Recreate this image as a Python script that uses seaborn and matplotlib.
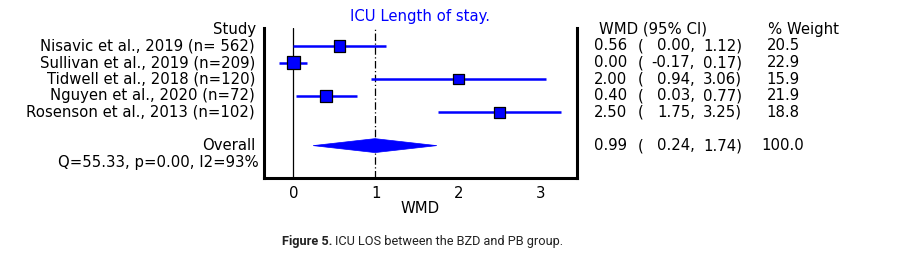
import numpy as np
import pandas as pd
import matplotlib
matplotlib.use("Agg")
import matplotlib.pyplot as plt
import matplotlib.transforms as mtransforms
from matplotlib.patches import Polygon
import seaborn as sns

studies = ["Nisavic et al., 2019 (n= 562)", "Sullivan et al., 2019 (n=209)",
           "Tidwell et al., 2018 (n=120)", "Nguyen et al., 2020 (n=72)",
           "Rosenson et al., 2013 (n=102)"]
wmd = [0.56, 0.00, 2.00, 0.40, 2.50]
ci_low = [0.00, -0.17, 0.94, 0.03, 1.75]
ci_high = [1.12, 0.17, 3.06, 0.77, 3.25]
weight = [20.5, 22.9, 15.9, 21.9, 18.8]
overall = 0.99
overall_low = 0.24
overall_high = 1.74
overall_weight = 100.0
het_text = "Q=55.33, p=0.00, I2=93%"
x_ticks = [0, 1, 2, 3]

sns.set_style("white")
plt.rcParams['font.family'] = ['DejaVu Sans']
plt.rcParams['text.color'] = 'black'
plt.rcParams['axes.labelcolor'] = 'black'

W, H = 898, 254
fig = plt.figure(figsize=(W / 100, H / 100), dpi=100)
ax = fig.add_axes([264 / W, 1 - 178 / H, (577 - 264) / W, (178 - 28) / H])

rows = np.arange(len(studies))
overall_row = len(studies) + 1
df = pd.DataFrame({"study": studies, "wmd": wmd, "low": ci_low,
                   "high": ci_high, "weight": weight, "row": rows})

blue = "#0000ff"
ax.hlines(df["row"], df["low"], df["high"], color=blue, lw=1.8, zorder=2)
sns.scatterplot(data=df, x="wmd", y="row", size="weight", sizes=(58, 80),
                marker="s", color=blue, edgecolor="black", linewidth=0.9,
                legend=False, ax=ax, zorder=3)

dh = 0.42
ax.add_patch(Polygon([[overall_low, overall_row], [overall, overall_row - dh],
                      [overall_high, overall_row], [overall, overall_row + dh]],
                     closed=True, facecolor=blue, edgecolor=blue, lw=0.5, zorder=3))

ax.axvline(0, color="black", lw=0.9, zorder=1)
ax.axvline(overall, color="black", lw=0.9, ls=(0, (6, 2, 1, 2)), zorder=1)

fs = 10.7
ax.set_xlim(-0.356, 3.44)
ax.set_ylim(7.95, -1.084)
ax.set_yticks([])
ax.set_xticks(x_ticks)
ax.set_xticklabels([str(t) for t in x_ticks])
ax.tick_params(axis="x", direction="in", length=5, width=0.8, color="black",
               labelsize=fs, labelcolor="black", pad=6)
for s in ["left", "right", "bottom"]:
    ax.spines[s].set_visible(True)
    ax.spines[s].set_color("black")
    ax.spines[s].set_linewidth(2.2)
ax.spines["top"].set_visible(False)
ax.set_xlabel("WMD", fontsize=fs, labelpad=0, color="black")
ax.set_ylabel("")
ax.set_title("ICU Length of stay.", color=blue, fontsize=fs, pad=5)

tr = mtransforms.blended_transform_factory(fig.transFigure, ax.transData)

def fx(px):
    return px / W

def put(px, r, s, ha):
    ax.text(fx(px), r, s, ha=ha, va="center", fontsize=fs, color="black",
            transform=tr, clip_on=False)

put(256, -1, "Study", "right")
put(599, -1, "WMD (95% CI)", "left")
put(768, -1, "% Weight", "left")

def row_text(r, est, lo, hi, wt):
    put(627, r, f"{est:.2f}", "right")
    put(638, r, "(", "left")
    put(695, r, f"{lo:.2f},", "right")
    put(742, r, f"{hi:.2f})", "right")
    put(783, r, f"{wt:.1f}", "center")

for i, st in enumerate(studies):
    put(255, i, st, "right")
    row_text(i, wmd[i], ci_low[i], ci_high[i], weight[i])

put(255, overall_row, "Overall", "right")
row_text(overall_row, overall, overall_low, overall_high, overall_weight)
put(259, overall_row + 1, het_text, "right")

fig.text(282 / W, 1 - 241 / H, "Figure 5.", ha="left", va="center", fontsize=9.2,
         fontweight="bold", family=["Roboto", "DejaVu Sans"], color="#222222")
fig.text(335 / W, 1 - 241 / H, "ICU LOS between the BZD and PB group.", ha="left", va="center",
         fontsize=9.2, family=["Roboto", "DejaVu Sans"], color="#222222")

fig.savefig("out.png", dpi=100, facecolor="white")
